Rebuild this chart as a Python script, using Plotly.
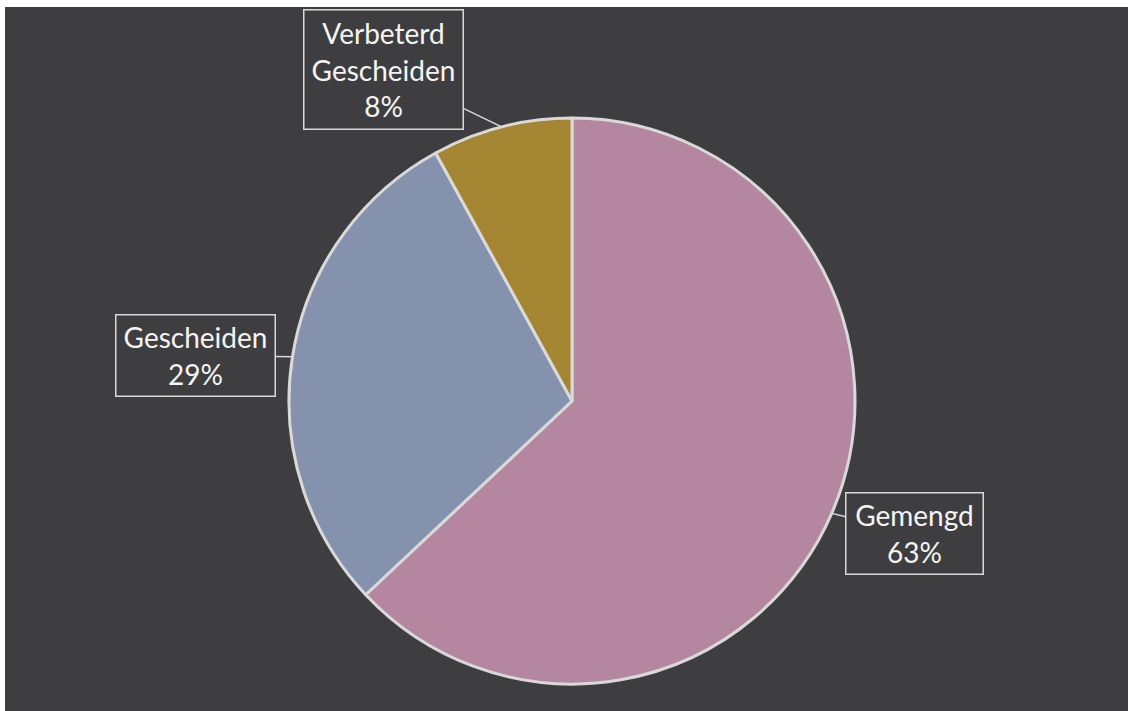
import math
import plotly.graph_objects as go

labels = ["Gemengd", "Gescheiden", "Verbeterd<br>Gescheiden"]
values = [63, 29, 8]
colors = ["#b4869f", "#8492ae", "#a38532"]

W, H = 1128, 711
cx, cy, R = 572, 401, 283

fig = go.Figure()
fig.add_trace(go.Pie(
    labels=labels, values=values, sort=False, direction="clockwise", rotation=0,
    marker=dict(colors=colors, line=dict(color="#d9d9d9", width=3)),
    textinfo="none", hoverinfo="label+percent", showlegend=False,
    domain=dict(x=[(cx - R) / W, (cx + R) / W], y=[1 - (cy + R) / H, 1 - (cy - R) / H]),
))

# callout offsets (box centre relative to slice edge), widths, heights
offsets = [(83, 20), (-97, -1), (-118, -57)]
boxes = [(128, 72), (150, 72), (150, 110)]

total = sum(values)
cum = 0
annotations = []
for lab, v, (ox, oy), (bw, bh) in zip(labels, values, offsets, boxes):
    mid = (cum + v / 2) / total * 2 * math.pi
    cum += v
    px = cx + R * math.sin(mid)
    py = cy - R * math.cos(mid)
    pct = f"{round(v / total * 100)}%"
    annotations.append(dict(
        x=px / W, y=1 - py / H, xref="paper", yref="paper",
        text=f"{lab}<br>{pct}", showarrow=True, arrowhead=0, arrowwidth=1.5,
        arrowcolor="#d9d9d9", ax=ox, ay=oy, standoff=0,
        font=dict(family="Lato, Carlito, Calibri, sans-serif", size=28, color="#f4f4f4"),
        bordercolor="#d9d9d9", borderwidth=1.5, borderpad=4,
        bgcolor="#3e3e40", width=bw, height=bh, align="center", valign="middle",
    ))

fig.update_layout(
    width=W, height=H, margin=dict(l=0, r=0, t=0, b=0),
    paper_bgcolor="white", plot_bgcolor="white",
    annotations=annotations,
    shapes=[dict(type="rect", xref="paper", yref="paper", x0=5 / W, x1=1, y0=0, y1=1 - 7 / H,
                 fillcolor="#3e3e40", line=dict(width=0), layer="below")],
)
fig.write_html("out.html")
